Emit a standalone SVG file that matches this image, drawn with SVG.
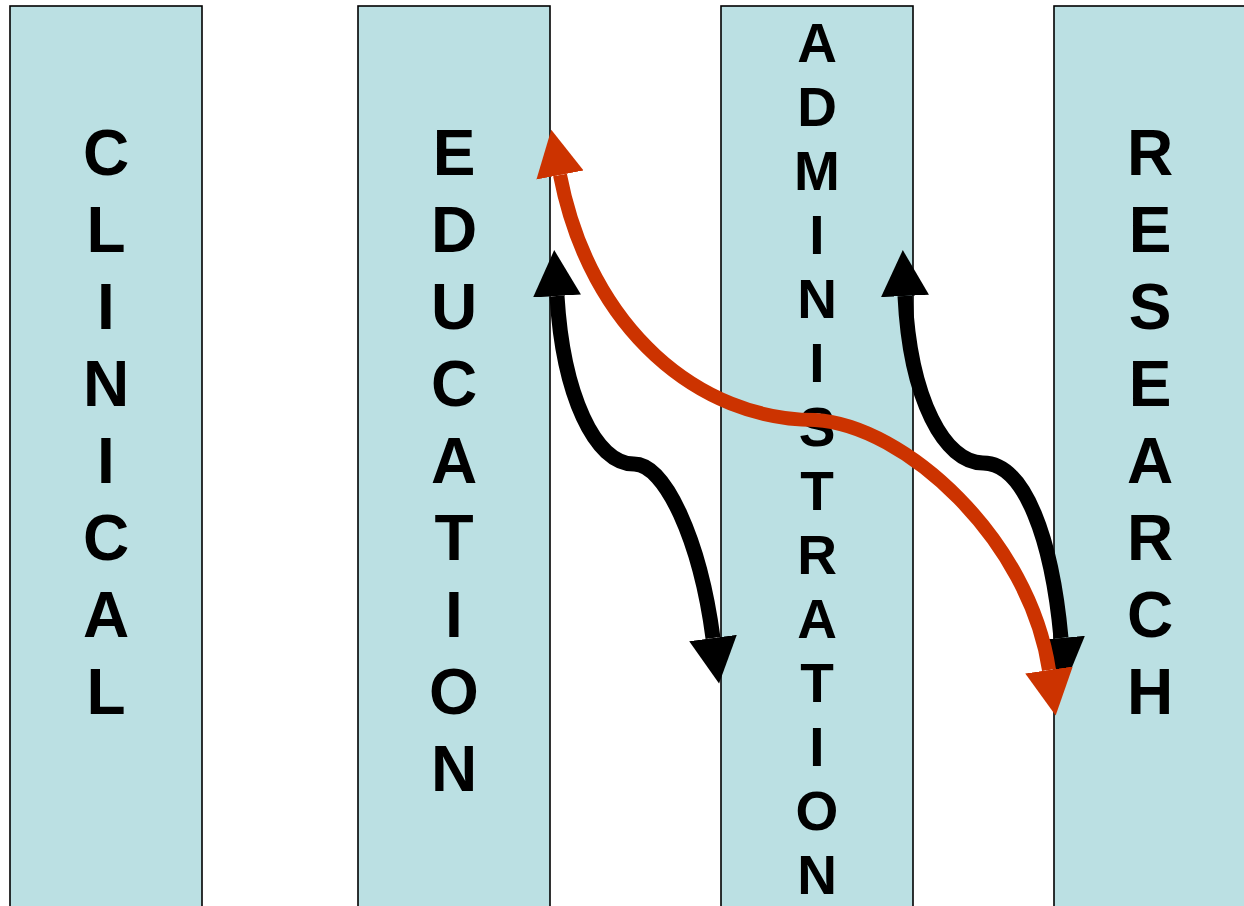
<svg xmlns="http://www.w3.org/2000/svg" width="1244" height="906" viewBox="0 0 1244 906">
<style>
.col{fill:#BBE0E3;stroke:#000;stroke-width:1.6}
.lbl{font-family:"Liberation Sans",Arial,sans-serif;font-weight:bold;font-size:64px;fill:#000;text-anchor:middle}
.sm{font-size:55px}
.blk{fill:none;stroke:#000;stroke-width:15}
.red{fill:none;stroke:#CC3300;stroke-width:14}
</style>
<defs>
<marker id="ahB" markerUnits="userSpaceOnUse" markerWidth="50" markerHeight="52" viewBox="0 -26 50 52" refX="0" refY="0" orient="auto-start-reverse">
<path d="M0,-24 L46,0 L0,24 z" fill="#000"/>
</marker>
<marker id="ahR" markerUnits="userSpaceOnUse" markerWidth="50" markerHeight="52" viewBox="0 -26 50 52" refX="0" refY="0" orient="auto-start-reverse">
<path d="M0,-24 L46,0 L0,24 z" fill="#CC3300"/>
</marker>
</defs>
<rect width="1244" height="906" fill="#fff"/>
<g id="clinical">
<rect class="col" x="10" y="6" width="192" height="920"/>
<text class="lbl"><tspan x="106" y="175">C</tspan><tspan x="106" y="252">L</tspan><tspan x="106" y="329">I</tspan><tspan x="106" y="406">N</tspan><tspan x="106" y="483">I</tspan><tspan x="106" y="560">C</tspan><tspan x="106" y="637">A</tspan><tspan x="106" y="714">L</tspan></text>
</g>
<g id="education">
<rect class="col" x="358" y="6" width="192" height="920"/>
<text class="lbl"><tspan x="454" y="175">E</tspan><tspan x="454" y="252">D</tspan><tspan x="454" y="329">U</tspan><tspan x="454" y="406">C</tspan><tspan x="454" y="483">A</tspan><tspan x="454" y="560">T</tspan><tspan x="454" y="637">I</tspan><tspan x="454" y="714">O</tspan><tspan x="454" y="791">N</tspan></text>
</g>
<g id="administration">
<rect class="col" x="721" y="6" width="192" height="920"/>
<text class="lbl sm"><tspan x="817" y="62">A</tspan><tspan x="817" y="126">D</tspan><tspan x="817" y="190">M</tspan><tspan x="817" y="254">I</tspan><tspan x="817" y="318">N</tspan><tspan x="817" y="382">I</tspan><tspan x="817" y="446">S</tspan><tspan x="817" y="510">T</tspan><tspan x="817" y="574">R</tspan><tspan x="817" y="638">A</tspan><tspan x="817" y="702">T</tspan><tspan x="817" y="766">I</tspan><tspan x="817" y="830">O</tspan><tspan x="817" y="894">N</tspan></text>
</g>
<g id="research">
<rect class="col" x="1054" y="6" width="220" height="920"/>
<text class="lbl"><tspan x="1150" y="175">R</tspan><tspan x="1150" y="252">E</tspan><tspan x="1150" y="329">S</tspan><tspan x="1150" y="406">E</tspan><tspan x="1150" y="483">A</tspan><tspan x="1150" y="560">R</tspan><tspan x="1150" y="637">C</tspan><tspan x="1150" y="714">H</tspan></text>
</g>
<g id="connectors">
<path id="edu-admin" class="blk" d="M557,296 C563,395 595,464 634,464 C665,464 700,540 713,638" marker-start="url(#ahB)" marker-end="url(#ahB)"/>
<path id="admin-research" class="blk" d="M905,296 C910,400 945,463 983,463 C1025,463 1052,540 1061,638" marker-start="url(#ahB)" marker-end="url(#ahB)"/>
<path id="edu-research" class="red" d="M560,175 C590,330 700,420 815,420 C905,425 1030,540 1049,670" marker-start="url(#ahR)" marker-end="url(#ahR)"/>
</g>
</svg>
